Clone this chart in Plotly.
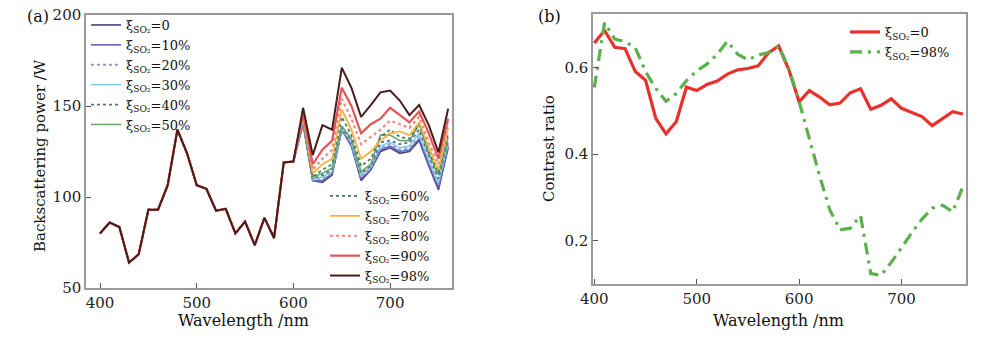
import plotly.graph_objects as go

# The page body has an 8 px default margin; the figure is sized so it fits
# the 1000x337 window exactly, and all positions below are window pixels.
OFF = 8
W, H = 1000 - OFF, 337 - OFF

# ---------------- data ----------------
wavelength = list(range(400, 770, 10))  # 400..760 nm

# panel (a): backscattering power, shared part 400-600 nm
common_400_600 = [80, 86, 83.5, 64, 68.5, 93, 93, 106.5, 137, 124, 106.5,
                  104.5, 92.5, 93.5, 80, 86.5, 73.5, 88.5, 77.5, 119, 119.5]
# 610-760 nm for each oxygen saturation
tail_0 = [140, 109, 108, 112, 137, 128, 109, 115, 125, 127, 124, 125, 131, 117, 104, 127]
tail_10 = [141, 109, 109, 113, 137, 128, 110, 115, 126, 128, 125, 126, 132, 118, 105, 128]
tail_20 = [141, 109, 110, 113, 137, 129, 111, 116, 127, 129, 126, 127, 134, 120, 107, 129]
tail_30 = [142, 110, 111, 114, 138, 130, 112, 117, 128, 130, 127, 128, 135, 121, 108, 130]
tail_40 = [142, 110, 112, 115, 138, 131, 113, 117, 130, 131, 129, 130, 137, 123, 110, 131]
tail_50 = [143, 111, 113, 116, 139, 132, 114, 118, 134, 134, 131, 131, 140, 124, 112, 133]
tail_60 = [143, 111, 115, 118, 144, 134, 117, 121, 133, 137, 133, 132, 140, 125, 113, 135]
tail_70 = [144, 113, 118, 121, 148, 137, 121, 125, 131, 135, 136, 134, 141, 127, 115, 138]
tail_80 = [145, 115, 121, 126, 154, 143, 129, 133, 137, 142, 140, 138, 144, 130, 118, 141]
tail_90 = [146, 118, 126, 131, 160, 150, 135, 140, 143, 149, 145, 141, 147, 135, 121, 143]
tail_98 = [149, 123, 139.5, 137, 171, 160, 144, 150.5, 157.5, 158.5, 153, 145, 150.5, 139.5, 124.5, 148.5]

sat_labels = ["0", "10%", "20%", "30%", "40%", "50%", "60%", "70%", "80%", "90%", "98%"]
tails = [tail_0, tail_10, tail_20, tail_30, tail_40, tail_50, tail_60,
         tail_70, tail_80, tail_90, tail_98]

# panel (b): contrast ratio
ratio_0 = [0.657, 0.686, 0.647, 0.644, 0.591, 0.571, 0.483, 0.447, 0.475, 0.555,
           0.547, 0.561, 0.569, 0.585, 0.595, 0.598, 0.604, 0.634, 0.650, 0.595,
           0.521, 0.547, 0.532, 0.514, 0.518, 0.542, 0.551, 0.504, 0.513, 0.528,
           0.506, 0.496, 0.487, 0.466, 0.483, 0.498, 0.493]
ratio_98 = [0.554, 0.704, 0.666, 0.660, 0.646, 0.591, 0.552, 0.522, 0.540, 0.570,
            0.593, 0.608, 0.631, 0.661, 0.631, 0.618, 0.629, 0.635, 0.650, 0.598,
            0.522, 0.435, 0.350, 0.271, 0.225, 0.229, 0.258, 0.124, 0.120, 0.150,
            0.185, 0.218, 0.250, 0.275, 0.282, 0.267, 0.325]

# ---------------- styles ----------------
FONT = "DejaVu Serif"
colors = ["#4b3f7a", "#6366c0", "#8f9bd0", "#7fcfe5", "#5a6c88", "#6aa96a",
          "#3f7a6e", "#f6b13f", "#f08a7a", "#e35555", "#4a1c1c"]
dashes = ["solid", "solid", "dot", "solid", "dot", "solid",
          "dot", "solid", "dot", "solid", "solid"]
widths = [1.6, 1.6, 1.8, 1.6, 1.8, 1.6, 1.8, 1.8, 2.2, 2.2, 2.0]

def lbl(s):
    return "ξ<sub>SO₂</sub>=" + s

fig = go.Figure()
for i, (s, t) in enumerate(zip(sat_labels, tails)):
    fig.add_trace(go.Scatter(
        x=wavelength, y=common_400_600 + t, mode="lines",
        name=lbl(s), line=dict(color=colors[i], width=widths[i], dash=dashes[i]),
        xaxis="x", yaxis="y",
        legend="legend" if i < 6 else "legend2",
    ))

fig.add_trace(go.Scatter(
    x=wavelength, y=ratio_0, mode="lines", name=lbl("0"),
    line=dict(color="#e8302c", width=3.2), xaxis="x2", yaxis="y2", legend="legend3"))
fig.add_trace(go.Scatter(
    x=wavelength, y=ratio_98, mode="lines", name=lbl("98%"),
    line=dict(color="#5cb04c", width=3.2, dash="12px,6px,3px,6px"),
    xaxis="x2", yaxis="y2", legend="legend3"))

def px_x(p):
    return (p - OFF) / W

def px_y(p):
    return 1 - (p - OFF) / H

axis_common = dict(showgrid=False, zeroline=False, showline=True, mirror=True,
                   linecolor="#9a9a9a", linewidth=1.5, ticks="inside", ticklen=5,
                   tickcolor="#555", automargin=False, ticklabeloverflow="allow",
                   tickfont=dict(family=FONT, size=15, color="#222"))

legend_common = dict(bgcolor="rgba(0,0,0,0)", borderwidth=0, tracegroupgap=0,
                     itemwidth=30, font=dict(family=FONT, size=13, color="#111"),
                     xanchor="left", yanchor="top")

fig.update_layout(
    width=W, height=H,
    margin=dict(l=0, r=0, t=0, b=0, autoexpand=False),
    paper_bgcolor="white", plot_bgcolor="white",
    xaxis=dict(domain=[px_x(86), px_x(452)], range=[385.5, 764], tickvals=[400, 500, 600, 700],
               anchor="y", **axis_common),
    yaxis=dict(domain=[px_y(288), px_y(15)], range=[50, 200], tickvals=[50, 100, 150, 200],
               anchor="x", **axis_common),
    xaxis2=dict(domain=[px_x(593), px_x(966)], range=[398.7, 763], tickvals=[400, 500, 600, 700],
                anchor="y2", **axis_common),
    yaxis2=dict(domain=[px_y(284), px_y(14)], range=[0.1, 0.724], tickvals=[0.2, 0.4, 0.6],
                anchor="x2", **axis_common),
    legend=dict(x=px_x(86), y=px_y(10), **legend_common),
    legend2=dict(x=px_x(325), y=px_y(181), **legend_common),
    legend3=dict(x=px_x(845), y=px_y(17), **legend_common),
    showlegend=True,
)

annots = [
    dict(text="(a)", x=px_x(25), y=px_y(17), xanchor="left", yanchor="middle", size=16),
    dict(text="(b)", x=px_x(536), y=px_y(17), xanchor="left", yanchor="middle", size=16),
    dict(text="Wavelength /nm", x=px_x(243), y=px_y(320), xanchor="center", yanchor="middle", size=16),
    dict(text="Wavelength /nm", x=px_x(778), y=px_y(320), xanchor="center", yanchor="middle", size=16),
    dict(text="Backscattering power /W", x=px_x(40), y=px_y(156), xanchor="center",
         yanchor="middle", textangle=-90, size=15),
    dict(text="Contrast ratio", x=px_x(549), y=px_y(149), xanchor="center",
         yanchor="middle", textangle=-90, size=15),
]
for a in annots:
    size = a.pop("size")
    fig.add_annotation(xref="paper", yref="paper", showarrow=False,
                       font=dict(family=FONT, size=size, color="#111"), **a)

fig.write_html("out.html")
